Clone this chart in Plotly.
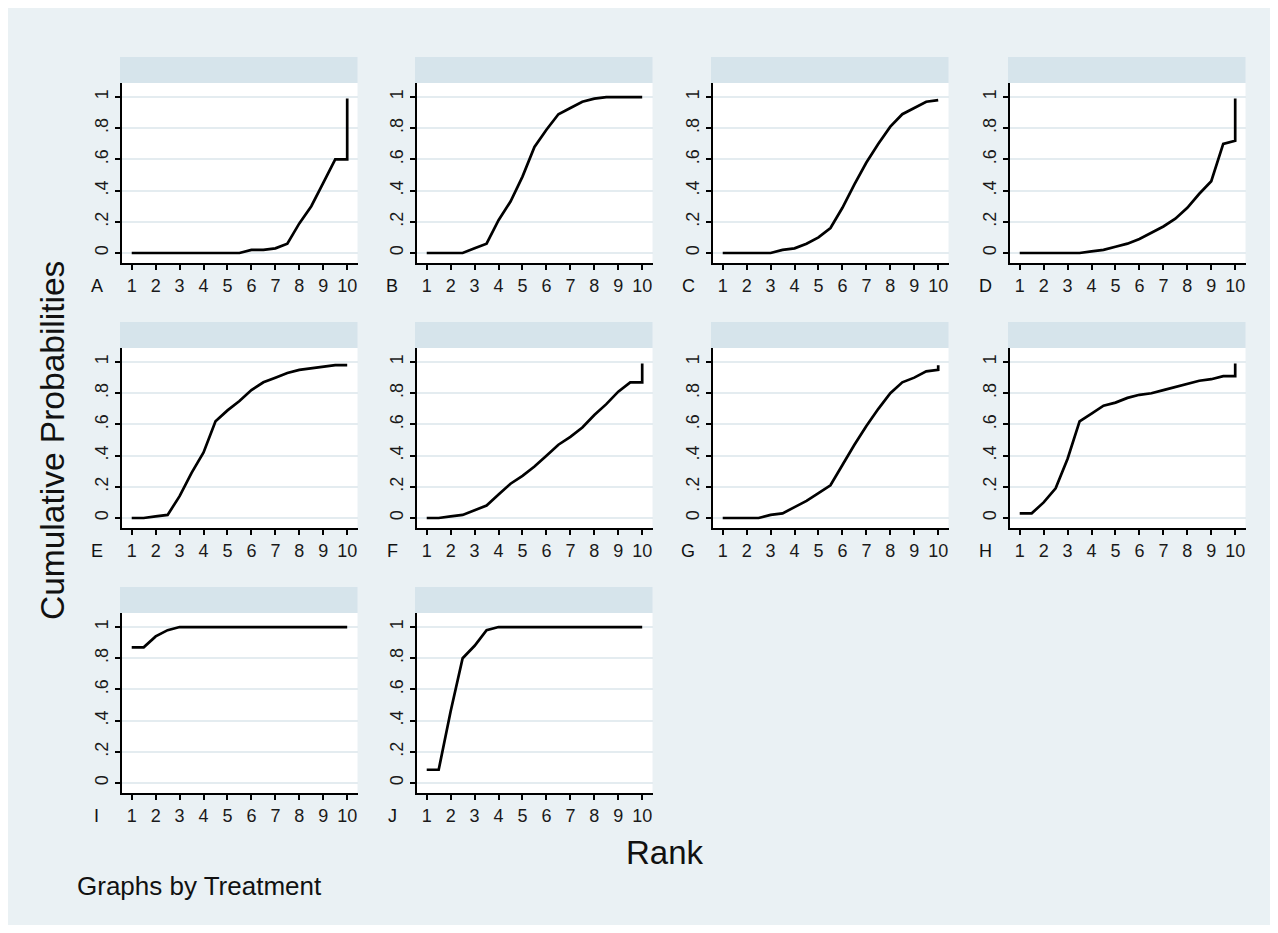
import plotly.graph_objects as go

# ---------------- data ----------------
rank = [1, 1.5, 2, 2.5, 3, 3.5, 4, 4.5, 5, 5.5, 6, 6.5, 7, 7.5, 8, 8.5, 9, 9.5, 10, 10]
treatments = ["A", "B", "C", "D", "E", "F", "G", "H", "I", "J"]
cum_A = [0, 0, 0, 0, 0, 0, 0, 0, 0, 0, 0.02, 0.02, 0.03, 0.06, 0.19, 0.30, 0.45, 0.60, 0.60, 0.99]
cum_B = [0, 0, 0, 0, 0.03, 0.06, 0.21, 0.33, 0.49, 0.68, 0.79, 0.89, 0.93, 0.97, 0.99, 1, 1, 1, 1, 1]
cum_C = [0, 0, 0, 0, 0, 0.02, 0.03, 0.06, 0.10, 0.16, 0.29, 0.44, 0.58, 0.70, 0.81, 0.89, 0.93, 0.97, 0.98, 0.98]
cum_D = [0, 0, 0, 0, 0, 0, 0.01, 0.02, 0.04, 0.06, 0.09, 0.13, 0.17, 0.22, 0.29, 0.38, 0.46, 0.70, 0.72, 0.99]
cum_E = [0, 0, 0.01, 0.02, 0.14, 0.29, 0.42, 0.62, 0.69, 0.75, 0.82, 0.87, 0.90, 0.93, 0.95, 0.96, 0.97, 0.98, 0.98, 0.98]
cum_F = [0, 0, 0.01, 0.02, 0.05, 0.08, 0.15, 0.22, 0.27, 0.33, 0.40, 0.47, 0.52, 0.58, 0.66, 0.73, 0.81, 0.87, 0.87, 0.99]
cum_G = [0, 0, 0, 0, 0.02, 0.03, 0.07, 0.11, 0.16, 0.21, 0.34, 0.47, 0.59, 0.70, 0.80, 0.87, 0.90, 0.94, 0.95, 0.98]
cum_H = [0.03, 0.03, 0.10, 0.19, 0.38, 0.62, 0.67, 0.72, 0.74, 0.77, 0.79, 0.80, 0.82, 0.84, 0.86, 0.88, 0.89, 0.91, 0.91, 0.99]
cum_I = [0.87, 0.87, 0.94, 0.98, 1, 1, 1, 1, 1, 1, 1, 1, 1, 1, 1, 1, 1, 1, 1, 1]
cum_J = [0.085, 0.085, 0.46, 0.80, 0.88, 0.98, 1, 1, 1, 1, 1, 1, 1, 1, 1, 1, 1, 1, 1, 1]
series = [cum_A, cum_B, cum_C, cum_D, cum_E, cum_F, cum_G, cum_H, cum_I, cum_J]

x_ticks = [1, 2, 3, 4, 5, 6, 7, 8, 9, 10]
y_ticks = [0, 0.2, 0.4, 0.6, 0.8, 1]
y_ticklabels = ["0", ".2", ".4", ".6", ".8", "1"]

# ---------------- layout geometry (screen pixels) ----------------
OFF = 8                      # default page margin around the plot div
W, H = 1262, 917
col_left = [122, 417, 713, 1010]
panel_w = 235.5
row_top = [83, 348, 613]
panel_h = 180
strip_h = 26

BG = "#EAF1F4"
STRIP = "#D6E4EB"
GRID = "#E4ECF0"
FONT = "Arial"


def px(x):
    return (x - OFF) / W


def py(y):
    return 1 - (y - OFF) / H


fig = go.Figure()
layout = dict(
    width=W, height=H,
    margin=dict(l=0, r=0, t=0, b=0),
    paper_bgcolor=BG,
    plot_bgcolor="white",
    showlegend=False,
    font=dict(family=FONT, color="#222"),
)
shapes = []
annotations = []

for i, (name, vals) in enumerate(zip(treatments, series)):
    r, c = divmod(i, 4)
    k = "" if i == 0 else str(i + 1)
    x0 = col_left[c]
    x1 = x0 + panel_w
    top = row_top[r]
    bot = top + panel_h
    fig.add_trace(go.Scatter(x=rank, y=vals, mode="lines",
                             line=dict(color="black", width=2.7),
                             xaxis="x" + k, yaxis="y" + k, hoverinfo="skip"))
    layout["xaxis" + k] = dict(
        domain=[px(x0), px(x1)], anchor="y" + k, range=[0.594, 10.43],
        tickvals=x_ticks, ticks="outside", ticklen=5, tickwidth=2, tickcolor="black",
        showline=True, linecolor="black", linewidth=2, showgrid=False, zeroline=False,
        tickfont=dict(size=18, family=FONT, color="#1a1a1a"),
    )
    layout["yaxis" + k] = dict(
        domain=[py(bot), py(top)], anchor="x" + k, range=[-0.064, 1.09],
        tickvals=y_ticks, ticktext=y_ticklabels, tickangle=-90,
        ticks="outside", ticklen=5, tickwidth=2, tickcolor="black",
        showline=True, linecolor="black", linewidth=2,
        showgrid=True, gridcolor=GRID, gridwidth=1.5, zeroline=False,
        tickfont=dict(size=18, family=FONT, color="#1a1a1a"),
    )
    # strip above each panel
    shapes.append(dict(type="rect", xref="paper", yref="paper",
                       x0=px(x0 - 2), x1=px(x1), y0=py(top), y1=py(top - strip_h),
                       fillcolor=STRIP, line=dict(width=0), layer="below"))
    # panel letter
    annotations.append(dict(text=name, xref="paper", yref="paper",
                            x=px(x0 - 25), y=py(bot + 23), showarrow=False,
                            xanchor="center", yanchor="middle",
                            font=dict(size=18, family=FONT, color="#111")))

annotations.append(dict(text="Cumulative Probabilities", xref="paper", yref="paper",
                        x=px(52), y=py(441), showarrow=False, textangle=-90,
                        xanchor="center", yanchor="middle",
                        font=dict(size=33.5, family=FONT, color="#111")))
annotations.append(dict(text="Rank", xref="paper", yref="paper",
                        x=px(665), y=py(852), showarrow=False,
                        xanchor="center", yanchor="middle",
                        font=dict(size=33, family=FONT, color="#111")))
annotations.append(dict(text="Graphs by Treatment", xref="paper", yref="paper",
                        x=px(75), y=py(886), showarrow=False,
                        xanchor="left", yanchor="middle",
                        font=dict(size=26, family=FONT, color="#111")))

layout["shapes"] = shapes
layout["annotations"] = annotations
fig.update_layout(**layout)
fig.write_html("out.html")
